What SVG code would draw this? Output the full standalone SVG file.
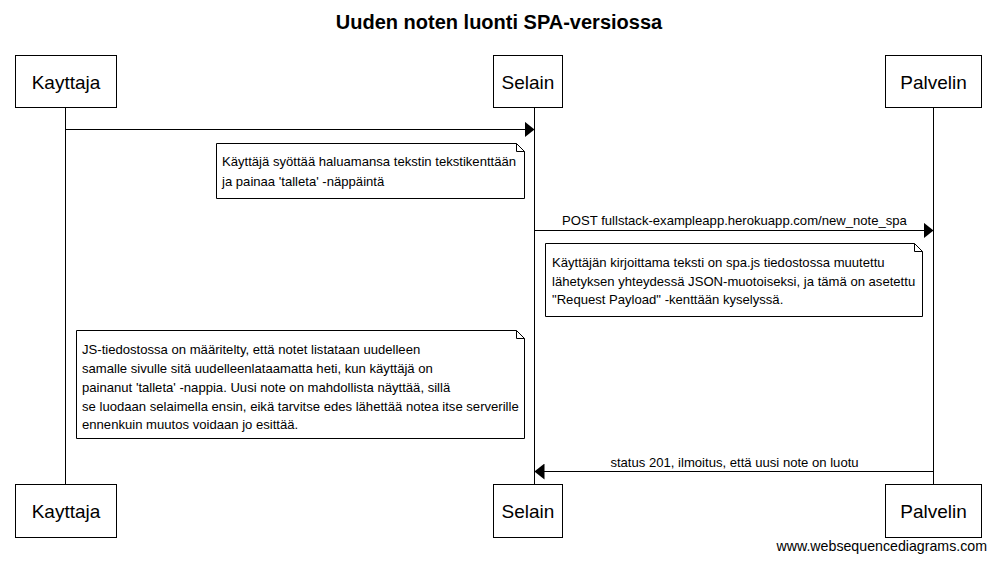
<svg xmlns="http://www.w3.org/2000/svg" width="996" height="562" viewBox="0 0 996 562">
<style>
text{font-family:"Liberation Sans",Arial,sans-serif;fill:#000}
.actor rect{fill:#fff;stroke:#000;stroke-width:1}
.actor text{font-size:19px;text-anchor:middle}
.life{stroke:#000;stroke-width:1;fill:none}
.msg{stroke:#000;stroke-width:1;fill:none}
.lbl{font-size:13.1px;text-anchor:middle}
.note path{fill:#fff;stroke:#000;stroke-width:1}
.note text{font-size:13.1px}
.title{font-size:20px;font-weight:bold;text-anchor:middle}
.wm{font-size:14.2px;text-anchor:end}
</style>
<defs>
<marker id="ah" viewBox="0 0 10 16" refX="10" refY="8" markerWidth="10" markerHeight="16" markerUnits="userSpaceOnUse" orient="auto">
<path d="M0,0 L10,8 L0,16 Z" fill="#000"/>
</marker>
</defs>
<rect width="996" height="562" fill="#fff"/>
<text class="title" x="499" y="29">Uuden noten luonti SPA-versiossa</text>
<g id="lifelines">
<line class="life" x1="65.5" y1="108" x2="65.5" y2="484.5"/>
<line class="life" x1="534.5" y1="108" x2="534.5" y2="484.5"/>
<line class="life" x1="933.5" y1="108" x2="933.5" y2="484.5"/>
</g>
<g id="actor-kayttaja-top" class="actor"><rect x="15.5" y="55.5" width="101" height="52"/><text x="66" y="89">Kayttaja</text></g>
<g id="actor-selain-top" class="actor"><rect x="493.5" y="55.5" width="69" height="52"/><text x="528" y="89">Selain</text></g>
<g id="actor-palvelin-top" class="actor"><rect x="885.5" y="55.5" width="96" height="52"/><text x="933.5" y="89">Palvelin</text></g>
<g id="actor-kayttaja-bottom" class="actor"><rect x="15.5" y="484.5" width="101" height="53"/><text x="66" y="518">Kayttaja</text></g>
<g id="actor-selain-bottom" class="actor"><rect x="493.5" y="484.5" width="69" height="53"/><text x="528" y="518">Selain</text></g>
<g id="actor-palvelin-bottom" class="actor"><rect x="885.5" y="484.5" width="96" height="53"/><text x="933.5" y="518">Palvelin</text></g>
<g id="connectors">
<line class="msg" x1="65.5" y1="129.5" x2="534.5" y2="129.5" marker-end="url(#ah)"/>
<line class="msg" x1="534.5" y1="230.5" x2="933.5" y2="230.5" marker-end="url(#ah)"/>
<text class="lbl" x="734.5" y="225">POST fullstack-exampleapp.herokuapp.com/new_note_spa</text>
<line class="msg" x1="933.5" y1="471.5" x2="534.5" y2="471.5" marker-end="url(#ah)"/>
<text class="lbl" x="734.5" y="467">status 201, ilmoitus, että uusi note on luotu</text>
</g>
<g id="note1" class="note">
<path d="M216.5,143.5 H516.5 L524.5,151.5 V198.5 H216.5 Z M516.5,143.5 V151.5 H524.5"/>
<text x="222" y="166">Käyttäjä syöttää haluamansa tekstin tekstikenttään</text>
<text x="222" y="186">ja painaa 'talleta' -näppäintä</text>
</g>
<g id="note2" class="note">
<path d="M545.5,243.5 H914.5 L922.5,251.5 V316.5 H545.5 Z M914.5,243.5 V251.5 H922.5"/>
<text x="552" y="267">Käyttäjän kirjoittama teksti on spa.js tiedostossa muutettu</text>
<text x="552" y="286">lähetyksen yhteydessä JSON-muotoiseksi, ja tämä on asetettu</text>
<text x="552" y="304">"Request Payload" -kenttään kyselyssä.</text>
</g>
<g id="note3" class="note">
<path d="M76.5,330.5 H516.5 L524.5,338.5 V438.5 H76.5 Z M516.5,330.5 V338.5 H524.5"/>
<text x="82" y="354">JS-tiedostossa on määritelty, että notet listataan uudelleen</text>
<text x="82" y="373">samalle sivulle sitä uudelleenlataamatta heti, kun käyttäjä on</text>
<text x="82" y="392">painanut 'talleta' -nappia. Uusi note on mahdollista näyttää, sillä</text>
<text x="82" y="411">se luodaan selaimella ensin, eikä tarvitse edes lähettää notea itse serverille</text>
<text x="82" y="429">ennenkuin muutos voidaan jo esittää.</text>
</g>
<text class="wm" x="987" y="551">www.websequencediagrams.com</text>
</svg>
